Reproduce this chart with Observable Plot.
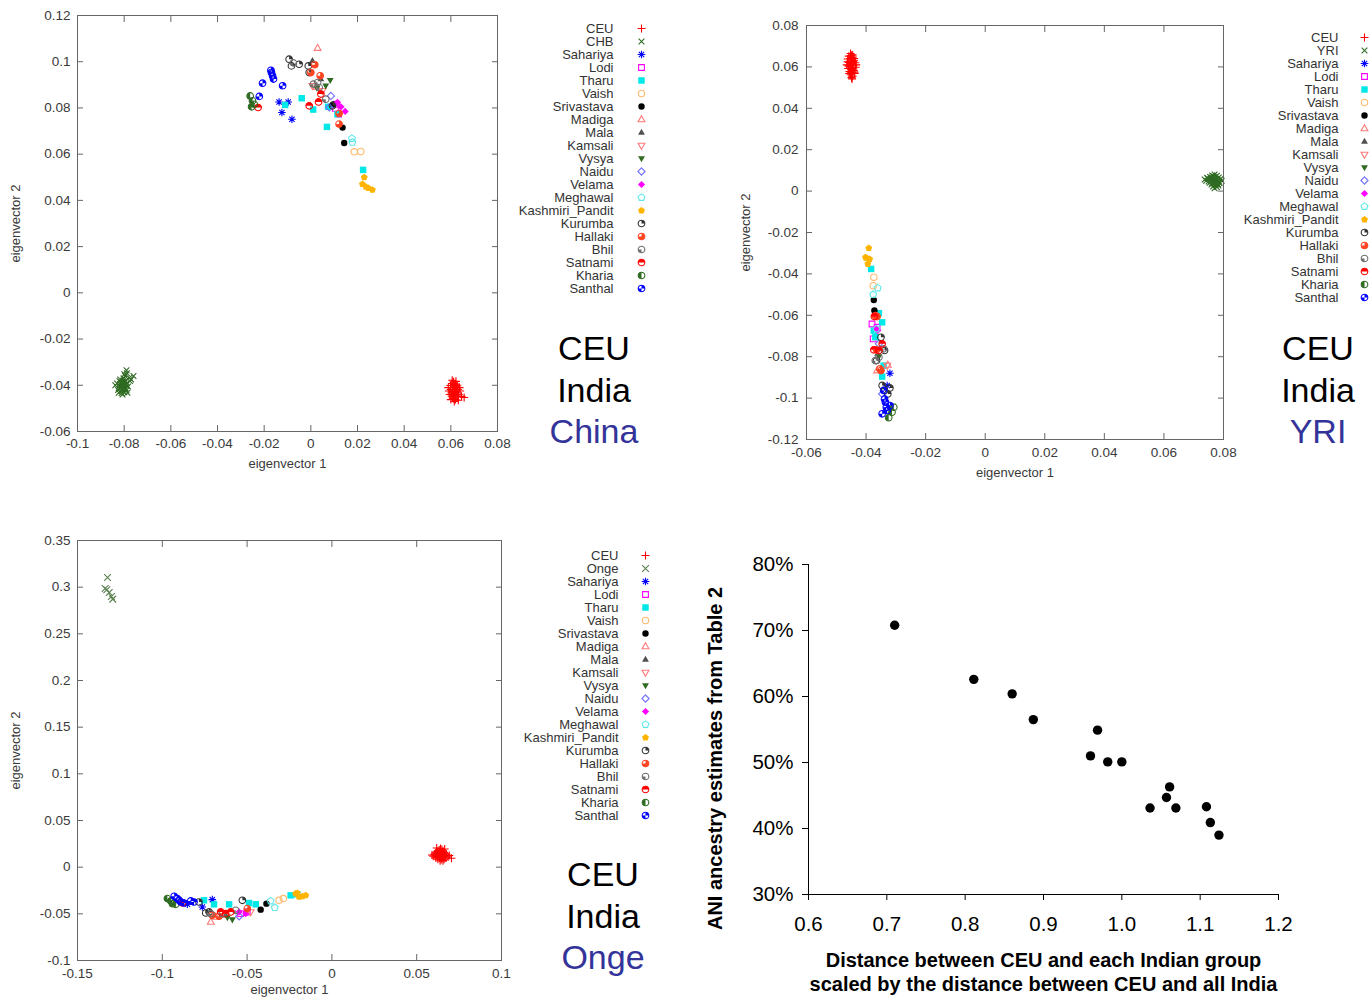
<!DOCTYPE html>
<html><head><meta charset="utf-8">
<script src="https://cdn.jsdelivr.net/npm/d3@7"></script>
<script src="https://cdn.jsdelivr.net/npm/@observablehq/plot@0.6"></script>
<style>
body{margin:0;background:#fff;}
#root{position:relative;width:1370px;height:999px;overflow:hidden;font-family:"Liberation Sans",Arial,sans-serif;background:#fff;}
.big{position:absolute;width:200px;text-align:center;font-size:34px;line-height:41.5px;color:#000;}
</style></head><body><div id="root"></div>
<script>
// ---------------- DATA ----------------
const indianGroups = ["Sahariya","Lodi","Tharu","Vaish","Srivastava","Madiga","Mala","Kamsali","Vysya","Naidu","Velama","Meghawal","Kashmiri_Pandit","Kurumba","Hallaki","Bhil","Satnami","Kharia","Santhal"];
const legendA = ["CEU","CHB", ...indianGroups];
const legendB = ["CEU","YRI", ...indianGroups];
const legendC = ["CEU","Onge", ...indianGroups];
const bigA = ["CEU","India","China"];
const bigB = ["CEU","India","YRI"];
const bigC = ["CEU","India","Onge"];

const xTicksA = [-0.1,-0.08,-0.06,-0.04,-0.02,0,0.02,0.04,0.06,0.08];
const yTicksA = [-0.06,-0.04,-0.02,0,0.02,0.04,0.06,0.08,0.1,0.12];
const xTicksB = [-0.06,-0.04,-0.02,0,0.02,0.04,0.06,0.08];
const yTicksB = [-0.12,-0.1,-0.08,-0.06,-0.04,-0.02,0,0.02,0.04,0.06,0.08];
const xTicksC = [-0.15,-0.1,-0.05,0,0.05,0.1];
const yTicksC = [-0.1,-0.05,0,0.05,0.1,0.15,0.2,0.25,0.3,0.35];
const xTicksD = [0.6,0.7,0.8,0.9,1.0,1.1,1.2];
const yTicksD = [0.3,0.4,0.5,0.6,0.7,0.8];

// Panel A: CEU / India / China
const ceuA = [[0.0612,-0.0385],[0.0605,-0.0392],[0.0620,-0.0395],[0.0598,-0.0401],[0.0615,-0.0403],[0.0628,-0.0400],[0.0608,-0.0410],[0.0622,-0.0412],[0.0600,-0.0418],[0.0617,-0.0420],[0.0630,-0.0418],[0.0610,-0.0427],[0.0625,-0.0430],[0.0603,-0.0433],[0.0618,-0.0438],[0.0633,-0.0440],[0.0612,-0.0445],[0.0626,-0.0450],[0.0608,-0.0455],[0.0620,-0.0462],[0.0615,-0.0470],[0.0657,-0.0453],[0.0592,-0.0425],[0.0640,-0.0425],[0.0606,-0.0378],[0.0622,-0.0383],[0.0595,-0.0440],[0.0637,-0.0410],[0.0614,-0.0396],[0.0619,-0.0426],[0.0604,-0.0447],[0.0628,-0.0442],[0.0611,-0.0458],[0.0646,-0.0448],[0.0589,-0.0410],[0.0624,-0.0406],[0.0609,-0.0420],[0.0632,-0.0465],[0.0616,-0.0434],[0.0600,-0.0462]];
const chbA = [[-0.0805,-0.0380],[-0.0812,-0.0388],[-0.0798,-0.0386],[-0.0818,-0.0395],[-0.0806,-0.0393],[-0.0792,-0.0398],[-0.0810,-0.0402],[-0.0800,-0.0405],[-0.0815,-0.0410],[-0.0795,-0.0412],[-0.0808,-0.0418],[-0.0822,-0.0405],[-0.0788,-0.0390],[-0.0803,-0.0370],[-0.0796,-0.0360],[-0.0778,-0.0368],[-0.0788,-0.0348],[-0.0812,-0.0425],[-0.0799,-0.0430],[-0.0826,-0.0420],[-0.0790,-0.0422],[-0.0830,-0.0392],[-0.0807,-0.0440],[-0.0817,-0.0375],[-0.0783,-0.0405],[-0.0801,-0.0397],[-0.0809,-0.0409],[-0.0794,-0.0382],[-0.0820,-0.0382],[-0.0775,-0.0382],[-0.0804,-0.0415],[-0.0813,-0.0398],[-0.0797,-0.0418],[-0.0786,-0.0432],[-0.0823,-0.0432],[-0.0805,-0.0387],[-0.0791,-0.0395],[-0.0811,-0.0434],[-0.0799,-0.0352],[-0.0770,-0.0375],[-0.0760,-0.0360],[-0.0838,-0.0400],[-0.0790,-0.0335]];
const indiaA = [
["Sahariya",-0.0136,0.0826],["Sahariya",-0.0097,0.0826],["Sahariya",-0.0124,0.078],["Sahariya",-0.0081,0.0751],
["Lodi",0.0111,0.0816],["Lodi",0.0119,0.0773],["Lodi",0.0105,0.0798],
["Tharu",-0.011,0.0813],["Tharu",-0.0039,0.0842],["Tharu",0.001,0.0793],["Tharu",0.0069,0.0718],["Tharu",0.0074,0.0805],["Tharu",0.0114,0.0773],["Tharu",0.0224,0.0532],
["Vaish",0.0186,0.061],["Vaish",0.0214,0.0612],
["Srivastava",0.0136,0.0715],["Srivastava",0.0143,0.0648],["Srivastava",0.0095,0.0815],
["Madiga",0.0029,0.1059],["Madiga",0.0025,0.089],
["Mala",0.0007,0.1004],["Mala",0.0043,0.0925],
["Kamsali",0.0007,0.0896],["Kamsali",0.005,0.0874],
["Vysya",0.0083,0.092],["Vysya",0.0026,0.0886],["Vysya",0.0064,0.0896],
["Naidu",0.0086,0.0852],["Naidu",0.0079,0.0802],
["Velama",0.0114,0.0824],["Velama",0.0129,0.0805],["Velama",0.0147,0.0785],
["Meghawal",0.0176,0.0668],["Meghawal",0.0178,0.0651],
["Kashmiri_Pandit",0.0229,0.05],["Kashmiri_Pandit",0.0221,0.047],["Kashmiri_Pandit",0.0236,0.0459],["Kashmiri_Pandit",0.0247,0.0453],["Kashmiri_Pandit",0.0264,0.0446],
["Kurumba",-0.0093,0.1011],["Kurumba",-0.0083,0.0982],["Kurumba",-0.005,0.0989],["Kurumba",-0.0011,0.0982],["Kurumba",-0.0007,0.0953],["Kurumba",0.0093,0.0809],
["Hallaki",0.0017,0.0987],["Hallaki",0.0,0.0953],["Hallaki",0.004,0.0939],["Hallaki",0.0121,0.0776],["Hallaki",0.0121,0.073],
["Bhil",0.0011,0.0903],["Bhil",0.0029,0.091],["Bhil",0.0036,0.0888],["Bhil",0.0064,0.0838],["Bhil",-0.0075,0.0995],
["Satnami",-0.0226,0.0802],["Satnami",-0.0007,0.0809],["Satnami",0.0033,0.0826],["Satnami",0.0043,0.086],
["Kharia",-0.026,0.0852],["Kharia",-0.025,0.0831],["Kharia",-0.0254,0.0805],["Kharia",-0.0243,0.0816],
["Santhal",-0.0169,0.0953],["Santhal",-0.0164,0.0939],["Santhal",-0.016,0.0925],["Santhal",-0.0171,0.0963],["Santhal",-0.0207,0.0907],["Santhal",-0.0121,0.0896],["Santhal",-0.0221,0.085]
];

// Panel B: CEU / India / YRI
const ceuB = [[-0.0452,0.0665],[-0.0445,0.0658],[-0.0458,0.0652],[-0.0448,0.0645],[-0.0440,0.0640],[-0.0462,0.0638],[-0.0452,0.0632],[-0.0444,0.0625],[-0.0458,0.0622],[-0.0436,0.0620],[-0.0450,0.0615],[-0.0465,0.0610],[-0.0442,0.0608],[-0.0455,0.0602],[-0.0447,0.0597],[-0.0435,0.0598],[-0.0460,0.0592],[-0.0450,0.0588],[-0.0441,0.0582],[-0.0456,0.0578],[-0.0447,0.0572],[-0.0438,0.0568],[-0.0452,0.0562],[-0.0445,0.0555],[-0.0449,0.0548],[-0.0443,0.0590],[-0.0453,0.0640],[-0.0459,0.0605],[-0.0440,0.0630],[-0.0448,0.0612],[-0.0454,0.0595],[-0.0446,0.0585],[-0.0462,0.0625],[-0.0433,0.0610],[-0.0451,0.0575],[-0.0444,0.0648],[-0.0457,0.0568],[-0.0449,0.0655],[-0.0439,0.0575],[-0.0447,0.0542]];
const yriB = [[0.0770,0.0080],[0.0762,0.0075],[0.0778,0.0074],[0.0755,0.0068],[0.0770,0.0068],[0.0784,0.0066],[0.0763,0.0062],[0.0776,0.0060],[0.0748,0.0060],[0.0790,0.0058],[0.0768,0.0055],[0.0758,0.0052],[0.0781,0.0052],[0.0772,0.0048],[0.0742,0.0050],[0.0763,0.0045],[0.0786,0.0045],[0.0776,0.0041],[0.0754,0.0040],[0.0768,0.0037],[0.0781,0.0034],[0.0760,0.0032],[0.0773,0.0028],[0.0765,0.0022],[0.0778,0.0020],[0.0770,0.0014],[0.0737,0.0056],[0.0794,0.0050],[0.0766,0.0072],[0.0757,0.0058],[0.0779,0.0046],[0.0771,0.0058],[0.0762,0.0038],[0.0774,0.0033],[0.0750,0.0046],[0.0787,0.0038],[0.0769,0.0044],[0.0760,0.0066],[0.0783,0.0027],[0.0745,0.0064]];
const indiaB = [
["Sahariya",-0.032,-0.088],["Sahariya",-0.0329,-0.0939],
["Lodi",-0.038,-0.0642],["Lodi",-0.0376,-0.0714],["Lodi",-0.0363,-0.0658],
["Tharu",-0.0383,-0.0376],["Tharu",-0.0357,-0.059],["Tharu",-0.0346,-0.0634],["Tharu",-0.0374,-0.0674],["Tharu",-0.0341,-0.0843],["Tharu",-0.0346,-0.0896],["Tharu",-0.0369,-0.0706],
["Vaish",-0.0374,-0.0416],["Vaish",-0.0376,-0.0457],
["Srivastava",-0.0374,-0.0526],["Srivastava",-0.0372,-0.0577],
["Madiga",-0.0327,-0.084],["Madiga",-0.0363,-0.0867],
["Mala",-0.0361,-0.0786],
["Kamsali",-0.0329,-0.0843],
["Vysya",-0.0357,-0.0799],
["Naidu",-0.0346,-0.098],["Naidu",-0.0357,-0.0738],
["Velama",-0.0361,-0.0674],["Velama",-0.0365,-0.0666],
["Meghawal",-0.0361,-0.0468],["Meghawal",-0.0376,-0.05],["Meghawal",-0.0365,-0.0666],
["Kashmiri_Pandit",-0.0391,-0.0275],["Kashmiri_Pandit",-0.0399,-0.0323],["Kashmiri_Pandit",-0.0388,-0.0328],["Kashmiri_Pandit",-0.0394,-0.0352],["Kashmiri_Pandit",-0.0402,-0.032],
["Kurumba",-0.035,-0.0706],["Kurumba",-0.0338,-0.077],["Kurumba",-0.0346,-0.0939],["Kurumba",-0.032,-0.0951],["Kurumba",-0.0327,-0.098],["Kurumba",-0.0365,-0.0819],["Kurumba",-0.0338,-0.0963],
["Hallaki",-0.0369,-0.0601],["Hallaki",-0.0363,-0.0606],["Hallaki",-0.0354,-0.0859],["Hallaki",-0.035,-0.0867],["Hallaki",-0.0365,-0.0767],
["Bhil",-0.0369,-0.0819],["Bhil",-0.0357,-0.0803],["Bhil",-0.0341,-0.0762],
["Satnami",-0.0346,-0.0738],["Satnami",-0.0357,-0.077],["Satnami",-0.0374,-0.0767],["Satnami",-0.0372,-0.0606],
["Kharia",-0.0307,-0.1044],["Kharia",-0.0313,-0.1068],["Kharia",-0.0324,-0.1095],
["Santhal",-0.0341,-0.0963],["Santhal",-0.0335,-0.102],["Santhal",-0.0329,-0.106],["Santhal",-0.032,-0.1036],["Santhal",-0.0346,-0.1076],["Santhal",-0.0338,-0.1004],["Santhal",-0.0332,-0.1044]
];

// Panel C: CEU / India / Onge
const ceuC = [[0.0640,0.0200],[0.0632,0.0185],[0.0648,0.0188],[0.0620,0.0170],[0.0638,0.0172],[0.0655,0.0175],[0.0612,0.0155],[0.0628,0.0158],[0.0645,0.0160],[0.0662,0.0158],[0.0605,0.0140],[0.0622,0.0142],[0.0640,0.0145],[0.0657,0.0143],[0.0675,0.0140],[0.0615,0.0128],[0.0632,0.0128],[0.0650,0.0130],[0.0668,0.0127],[0.0598,0.0118],[0.0625,0.0115],[0.0642,0.0113],[0.0660,0.0115],[0.0685,0.0110],[0.0612,0.0100],[0.0635,0.0098],[0.0652,0.0100],[0.0672,0.0098],[0.0705,0.0095],[0.0625,0.0085],[0.0645,0.0082],[0.0662,0.0085],[0.0638,0.0068],[0.0655,0.0070],[0.0590,0.0130],[0.0618,0.0205],[0.0665,0.0195],[0.0692,0.0125],[0.0648,0.0120],[0.0630,0.0138]];
const ongeC = [[-0.1323,0.3104],[-0.1337,0.2986],[-0.1313,0.2944],[-0.13,0.29],[-0.1292,0.2872],[-0.1327,0.2972]];
const indiaC = [
["Sahariya",-0.0705,-0.0348],["Sahariya",-0.0852,-0.0398],["Sahariya",-0.0764,-0.0426],
["Lodi",-0.0538,-0.0498],["Lodi",-0.0499,-0.048],
["Tharu",-0.0754,-0.0355],["Tharu",-0.0695,-0.0398],["Tharu",-0.0606,-0.0398],["Tharu",-0.0489,-0.0384],["Tharu",-0.0449,-0.0398],["Tharu",-0.0243,-0.0302],["Tharu",-0.0204,-0.0291],
["Vaish",-0.0312,-0.0355],["Vaish",-0.0286,-0.0337],
["Srivastava",-0.042,-0.0455],["Srivastava",-0.0386,-0.0391],
["Madiga",-0.0714,-0.0587],["Madiga",-0.0685,-0.0533],
["Mala",-0.0626,-0.0515],
["Kamsali",-0.0479,-0.048],
["Vysya",-0.0587,-0.0562],["Vysya",-0.0616,-0.054],
["Naidu",-0.0547,-0.0526],
["Velama",-0.0547,-0.048],["Velama",-0.0508,-0.0498],
["Meghawal",-0.0361,-0.0362],["Meghawal",-0.0337,-0.0433],
["Kashmiri_Pandit",-0.0214,-0.0284],["Kashmiri_Pandit",-0.0194,-0.0319],["Kashmiri_Pandit",-0.0174,-0.0312],["Kashmiri_Pandit",-0.0154,-0.0302],["Kashmiri_Pandit",-0.0204,-0.0277],
["Kurumba",-0.0724,-0.048],["Kurumba",-0.0528,-0.0355],["Kurumba",-0.0744,-0.0491],["Kurumba",-0.0784,-0.0373],
["Hallaki",-0.0705,-0.0515],["Hallaki",-0.0665,-0.0526],["Hallaki",-0.0499,-0.0444],
["Bhil",-0.0646,-0.0498],["Bhil",-0.0714,-0.0498],["Bhil",-0.0567,-0.0462],
["Satnami",-0.0881,-0.0384],["Satnami",-0.0656,-0.048],["Satnami",-0.0597,-0.048],["Satnami",-0.0626,-0.0498],
["Kharia",-0.097,-0.0337],["Kharia",-0.094,-0.0391],["Kharia",-0.0921,-0.0398],["Kharia",-0.095,-0.0362],
["Santhal",-0.093,-0.0312],["Santhal",-0.0911,-0.0337],["Santhal",-0.0891,-0.0373],["Santhal",-0.0872,-0.0384],["Santhal",-0.0832,-0.0362],["Santhal",-0.0813,-0.0373],["Santhal",-0.0901,-0.0355]
];

// Panel D
const distanceD = [0.710,0.811,0.860,0.887,0.969,0.960,0.982,1.000,1.036,1.057,1.061,1.069,1.108,1.113,1.124];
const aniD      = [0.708,0.626,0.604,0.565,0.549,0.510,0.501,0.501,0.431,0.447,0.463,0.431,0.433,0.409,0.390];
const yLabelD = "ANI ancestry estimates from Table 2";
const xLabelD = "Distance between CEU and each Indian group\nscaled by the distance between CEU and all India";

// ---------------- STYLES ----------------
const FONT = '"Liberation Sans", Arial, sans-serif';
const sym = fn => ({draw(c, size) { fn(c, Math.sqrt(size / Math.PI)); }});
const SYM = {
  plus: sym((c,r)=>{c.moveTo(-r,0);c.lineTo(r,0);c.moveTo(0,-r);c.lineTo(0,r);}),
  times: sym((c,r)=>{const a=r*0.75;c.moveTo(-a,-a);c.lineTo(a,a);c.moveTo(-a,a);c.lineTo(a,-a);}),
  asterisk: sym((c,r)=>{c.moveTo(-r,0);c.lineTo(r,0);c.moveTo(0,-r);c.lineTo(0,r);const a=r*0.7;c.moveTo(-a,-a);c.lineTo(a,a);c.moveTo(-a,a);c.lineTo(a,-a);}),
  square: sym((c,r)=>{const a=r*0.85;c.moveTo(-a,-a);c.lineTo(a,-a);c.lineTo(a,a);c.lineTo(-a,a);c.closePath();}),
  circle: sym((c,r)=>{c.moveTo(r,0);c.arc(0,0,r,0,2*Math.PI);c.closePath();}),
  triUp: sym((c,r)=>{c.moveTo(0,-r);c.lineTo(r*0.9,r*0.6);c.lineTo(-r*0.9,r*0.6);c.closePath();}),
  triDown: sym((c,r)=>{c.moveTo(0,r);c.lineTo(r*0.9,-r*0.6);c.lineTo(-r*0.9,-r*0.6);c.closePath();}),
  diamond: sym((c,r)=>{c.moveTo(0,-r);c.lineTo(r,0);c.lineTo(0,r);c.lineTo(-r,0);c.closePath();}),
  pentagon: sym((c,r)=>{for(let k=0;k<5;k++){const a=-Math.PI/2+k*2*Math.PI/5;const x=r*Math.cos(a),y=r*Math.sin(a);k?c.lineTo(x,y):c.moveTo(x,y);}c.closePath();})
};
const wedge = quads => sym((c,r)=>{for(const q of quads){const a0=-Math.PI/2+q*Math.PI/2;c.moveTo(0,0);c.arc(0,0,r,a0,a0+Math.PI/2);c.closePath();}});
const GREEN = "#2f6b22";
const styleOf = {
  CEU: {s:"plus", c:"#ff0000", k:"stroke", r:4},
  CHB: {s:"times", c:GREEN, k:"stroke", r:3.8},
  YRI: {s:"times", c:GREEN, k:"stroke", r:3.8},
  Onge: {s:"times", c:"#5a8050", k:"stroke", r:4.5},
  Sahariya: {s:"asterisk", c:"#0000ff", k:"stroke", r:3.8},
  Lodi: {s:"square", c:"#ff00ff", k:"stroke", r:3.4},
  Tharu: {s:"square", c:"#00e8e8", k:"fill", r:3.8},
  Vaish: {s:"circle", c:"#ffbb70", k:"stroke", r:3.2},
  Srivastava: {s:"circle", c:"#000000", k:"fill", r:3.2},
  Madiga: {s:"triUp", c:"#ff7a7a", k:"stroke", r:3.8},
  Mala: {s:"triUp", c:"#505050", k:"fill", r:3.8},
  Kamsali: {s:"triDown", c:"#ff7a7a", k:"stroke", r:3.8},
  Vysya: {s:"triDown", c:GREEN, k:"fill", r:3.8},
  Naidu: {s:"diamond", c:"#7070ff", k:"stroke", r:3.6},
  Velama: {s:"diamond", c:"#ff00ff", k:"fill", r:3.6},
  Meghawal: {s:"pentagon", c:"#60e8e8", k:"stroke", r:3.6},
  Kashmiri_Pandit: {s:"pentagon", c:"#ffb400", k:"fill", r:3.6},
  Kurumba: {q:[0], c:"#333333", r:3.3},
  Hallaki: {q:[0,1,2], c:"#ff4422", r:3.3},
  Bhil: {q:[2], c:"#6e6e6e", r:3.3},
  Satnami: {q:[3,0], c:"#ff0000", r:3.3},
  Kharia: {q:[2,3], c:GREEN, r:3.3},
  Santhal: {q:[0,2], c:"#0000ff", r:3.3}
};
function popMarks(data, name, ch) {
  const st = styleOf[name];
  if (st.q) {
    return [
      Plot.dot(data, {...ch, symbol: SYM.circle, r: st.r, fill: "none", stroke: st.c, strokeWidth: 1.1}),
      Plot.dot(data, {...ch, symbol: wedge(st.q), r: st.r, fill: st.c, stroke: "none"})
    ];
  }
  if (st.k === "fill") return [Plot.dot(data, {...ch, symbol: SYM[st.s], r: st.r, fill: st.c, stroke: "none"})];
  return [Plot.dot(data, {...ch, symbol: SYM[st.s], r: st.r, fill: "none", stroke: st.c, strokeWidth: 1.1})];
}

const root = document.getElementById("root");
function place(node, left, top) { node.style.position = "absolute"; node.style.left = left + "px"; node.style.top = top + "px"; root.appendChild(node); }

function pcaPlot(o) {
  const marks = [];
  marks.push(...popMarks(o.ceu, "CEU", {x: d => d[0], y: d => d[1]}));
  marks.push(...popMarks(o.ref, o.refName, {x: d => d[0], y: d => d[1]}));
  for (const p of indianGroups) {
    const rows = o.india.filter(r => r[0] === p);
    if (rows.length) marks.push(...popMarks(rows, p, {x: r => r[1], y: r => r[2]}));
  }
  const fmt = d => String(d);
  marks.push(
    Plot.axisX(o.xTicks, {anchor: "bottom", tickSize: 0, tickPadding: o.xPad, tickFormat: fmt, fontSize: 13.5, label: null}),
    Plot.axisY(o.yTicks, {anchor: "left", tickSize: 0, tickPadding: o.yPad, tickFormat: fmt, fontSize: 13.5, label: null}),
    Plot.axisX(o.xTicks, {anchor: "bottom", tickSize: -6, tickFormat: () => "", label: null, stroke: "#666"}),
    Plot.axisX(o.xTicks, {anchor: "top", tickSize: -6, tickFormat: () => "", label: null, stroke: "#666"}),
    Plot.axisY(o.yTicks, {anchor: "left", tickSize: -6, tickFormat: () => "", label: null, stroke: "#666"}),
    Plot.axisY(o.yTicks, {anchor: "right", tickSize: -6, tickFormat: () => "", label: null, stroke: "#666"}),
    Plot.frame({stroke: "#666"}),
    Plot.text(["eigenvector 1"], {text: d => d, frameAnchor: "bottom", lineAnchor: "middle", textAnchor: "middle", dy: o.xLabDy, fontSize: 13}),
    Plot.text(["eigenvector 2"], {text: d => d, frameAnchor: "left", lineAnchor: "middle", textAnchor: "middle", rotate: -90, dx: o.yLabDx, fontSize: 13})
  );
  return Plot.plot({
    width: o.width, height: o.height,
    marginTop: o.mt, marginRight: o.mr, marginBottom: o.mb, marginLeft: o.ml,
    style: {fontFamily: FONT, color: "#3a3a3a", background: "transparent", overflow: "visible"},
    x: {domain: o.xDomain}, y: {domain: o.yDomain},
    marks
  });
}

function legendPlot(names, o) {
  const marks = [Plot.text(names, {y: d => d, text: d => d, frameAnchor: "right", textAnchor: "end", dx: o.dx, fontSize: 13, fill: "#333"})];
  for (const n of names) marks.push(...popMarks([n], n, {y: d => d, frameAnchor: "right"}));
  return Plot.plot({
    width: o.width, height: o.height, marginTop: o.mt, marginBottom: o.mb, marginLeft: 0, marginRight: o.mr,
    style: {fontFamily: FONT, background: "transparent", overflow: "visible"},
    y: {type: "point", domain: names, padding: 0, axis: null},
    marks
  });
}

function bigText(lines, cx, cy0) {
  const d = document.createElement("div");
  d.className = "big";
  d.style.left = (cx - 100) + "px";
  d.style.top = (cy0 - 20.75) + "px";
  lines.forEach((t, i) => { const s = document.createElement("div"); s.textContent = t; s.style.color = i === 2 ? "#333399" : "#000"; d.appendChild(s); });
  root.appendChild(d);
}

// Panel A
place(pcaPlot({ceu: ceuA, ref: chbA, refName: "CHB", india: indiaA, xDomain: [-0.1, 0.08], yDomain: [-0.06, 0.12],
  xTicks: xTicksA, yTicks: yTicksA, width: 520, height: 480, mt: 15, mr: 23, mb: 49, ml: 77, xPad: 7, yPad: 7, xLabDy: 32, yLabDx: -62}), 0, 0);
place(legendPlot(legendA, {width: 160, height: 310, mt: 26, mb: 21, mr: 19, dx: -28}), 500, 0);
bigText(bigA, 594, 349);

// Panel B
place(pcaPlot({ceu: ceuB, ref: yriB, refName: "YRI", india: indiaB, xDomain: [-0.06, 0.08], yDomain: [-0.12, 0.08],
  xTicks: xTicksB, yTicks: yTicksB, width: 520, height: 480, mt: 15, mr: 27, mb: 51, ml: 76, xPad: 8, yPad: 8, xLabDy: 33, yLabDx: -61}), 730, 10);
place(legendPlot(legendB, {width: 145, height: 300, mt: 27, mb: 13, mr: 6, dx: -26}), 1225, 10);
bigText(bigB, 1318, 349);

// Panel C
place(pcaPlot({ceu: ceuC, ref: ongeC, refName: "Onge", india: indiaC, xDomain: [-0.15, 0.1], yDomain: [-0.1, 0.35],
  xTicks: xTicksC, yTicks: yTicksC, width: 520, height: 474, mt: 15, mr: 19, mb: 39, ml: 77, xPad: 8, yPad: 7, xLabDy: 29, yLabDx: -62}), 0, 525);
place(legendPlot(legendC, {width: 160, height: 290, mt: 13, mb: 14, mr: 20, dx: -27}), 505, 540);
bigText(bigC, 603, 875);

// Panel D
const chartD = Plot.plot({
  width: 620, height: 459, marginLeft: 118, marginRight: 32, marginTop: 24, marginBottom: 105,
  style: {fontFamily: FONT, color: "#000", background: "transparent", overflow: "visible"},
  x: {domain: [0.6, 1.2]}, y: {domain: [0.3, 0.8]},
  marks: [
    Plot.ruleY([0.3], {stroke: "#000"}),
    Plot.ruleX([0.6], {stroke: "#000"}),
    Plot.axisX(xTicksD, {tickSize: 6, tickPadding: 16, tickFormat: d3.format(".1f"), fontSize: 20.5, label: null}),
    Plot.axisY(yTicksD, {tickSize: 6, tickPadding: 9, tickFormat: d3.format(".0%"), fontSize: 20.5, label: null}),
    Plot.dot(distanceD, {x: d => d, y: (d, i) => aniD[i], r: 4.7, fill: "#000", stroke: "none"}),
    Plot.text([yLabelD], {text: d => d, frameAnchor: "left", lineAnchor: "middle", textAnchor: "middle", rotate: -90, dx: -93, dy: 29, fontSize: 20, fontWeight: "bold"}),
    Plot.text([xLabelD], {text: d => d, frameAnchor: "bottom", lineAnchor: "middle", textAnchor: "middle", dy: 76.5, fontSize: 20, fontWeight: "bold", lineHeight: 1.22})
  ]
});
place(chartD, 690, 540);
</script></body></html>
